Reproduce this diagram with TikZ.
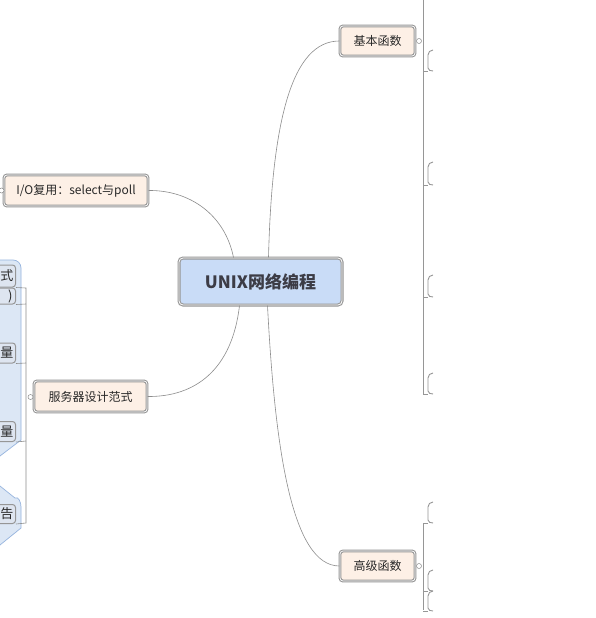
\documentclass[tikz,border=0pt]{standalone}
\usepackage{fontspec}
\setmainfont{Noto Sans CJK SC}
\definecolor{lineg}{RGB}{140,140,140}
\definecolor{boxg}{RGB}{150,150,150}
\definecolor{peach}{RGB}{253,240,230}
\definecolor{cblue}{RGB}{201,220,247}
\definecolor{regfill}{RGB}{220,231,245}
\definecolor{regdraw}{RGB}{150,180,222}
\definecolor{pbox}{RGB}{222,229,240}
\definecolor{txt}{RGB}{40,40,40}
\definecolor{ctxt}{RGB}{60,60,70}
\begin{document}
\begin{tikzpicture}[x=1pt,y=-1pt,
  topic/.style={draw=boxg, line width=1.1pt, double=white, double distance=0.7pt, rounded corners=3pt, fill=peach, inner sep=0pt, font=\fontsize{12}{14}\selectfont, text=txt},
  central/.style={draw=boxg, line width=1.1pt, double=white, double distance=0.8pt, rounded corners=4pt, fill=cblue, inner sep=0pt, font=\fontsize{17}{19}\selectfont\bfseries, text=ctxt},
  partial/.style={draw=boxg, line width=1pt, rounded corners=3pt, fill=pbox, inner sep=0pt, font=\fontsize{13}{15}\selectfont, text=txt, anchor=east, text width=40pt, align=right},
  conn/.style={draw=lineg, line width=0.6pt},
  knob/.style={circle, draw=lineg, fill=white, line width=0.5pt, inner sep=0pt, minimum size=5pt},
  brk/.style={draw=boxg, line width=0.9pt}
]
\useasboundingbox (0,0) rectangle (596,618);
\clip (0,0) rectangle (596,618);
\fill[white] (0,0) rectangle (596,618);

% left regions
\draw[fill=regfill, draw=regdraw, line width=0.7pt] (-5,260) -- (13,260) to[out=0,in=90] (21,268) -- (21,440) -- (0,456) -- (-5,456) -- cycle;
\draw[fill=regfill, draw=regdraw, line width=0.7pt] (-5,486) -- (0,486) -- (15,498) to[out=30,in=90] (21,507) -- (21,528) -- (0,545) -- (-5,545) -- cycle;

% partial boxes
\node[partial, minimum height=22pt] (pa) at (16,276) {式\hspace*{2pt}};
\node[partial, minimum height=16pt] (pb) at (16,296) {)\hspace*{3pt}};
\node[partial, minimum height=20pt] (pc) at (16,353) {量\hspace*{2pt}};
\node[partial, minimum height=20pt] (pd) at (16,431.5) {量\hspace*{2pt}};
\node[partial, minimum height=19pt] (pe) at (16,514) {告\hspace*{2pt}};

% main nodes
\node[central, minimum width=163pt, minimum height=47pt] (c) at (260.5,281.5) {UNIX网络编程};
\node[topic, minimum width=75pt, minimum height=30pt] (jb) at (377.5,41) {基本函数};
\node[topic, minimum width=75pt, minimum height=30pt] (gj) at (377.5,566) {高级函数};
\node[topic, minimum width=144pt, minimum height=31pt] (io) at (76,190.5) {I/O复用：select与poll};
\node[topic, minimum width=113pt, minimum height=31pt] (fw) at (90.5,396.5) {服务器设计范式};

% connectors from centre
\draw[conn] (c.north) ++(8,0) coordinate (c1) .. controls (272,120) and (292,41) .. (jb.west);
\draw[conn] (c.south) ++(7,0) coordinate (c2) .. controls (275,450) and (292,566) .. (gj.west);
\draw[conn] (c.north) ++(-27,0) coordinate (c3) .. controls (225,215) and (190,190) .. (io.east);
\draw[conn] (c.south) ++(-21,0) coordinate (c4) .. controls (232,370) and (195,397) .. (fw.east);

% right trunk (basic)
\coordinate (t1) at (423,0);
\coordinate (t2) at (423,394);
\draw[conn, line width=1pt, draw=boxg] (t1) -- (t2) -- (428,394);
\node[knob] (kj) at (419,41) {};
\foreach \a/\b in {50/71, 162/185, 275/297, 373/394}{
  \draw[brk] (433,\a) to[out=180,in=90] (428,\a+5) -- (428,\b-3) to[out=-90,in=180] (433,\b);
  \draw[brk] (423,\b) -- (428,\b);
}

% right trunk (advanced)
\node[knob] (kg) at (419,566) {};
\draw[conn, line width=1pt, draw=boxg] (423,523) -- (423,610);
\foreach \a/\b in {502/523, 570/591, 591/611}{
  \draw[brk] (433,\a) to[out=180,in=90] (428,\a+5) -- (428,\b-3) to[out=-90,in=180] (433,\b);
  \draw[brk] (423,\b) -- (428,\b);
}

% left trunk
\node[knob] (kf) at (30.5,397) {};
\node[knob] (ki) at (1.5,190.5) {};
\draw[conn] (pb.north east) -- (26,288) -- (26,523) -- (pe.south east);
\draw[conn] (pb.south east) -- (26,304);
\draw[conn] (pc.south east) -- (26,363);
\draw[conn] (pd.south east) -- (26,441);
\end{tikzpicture}
\end{document}
